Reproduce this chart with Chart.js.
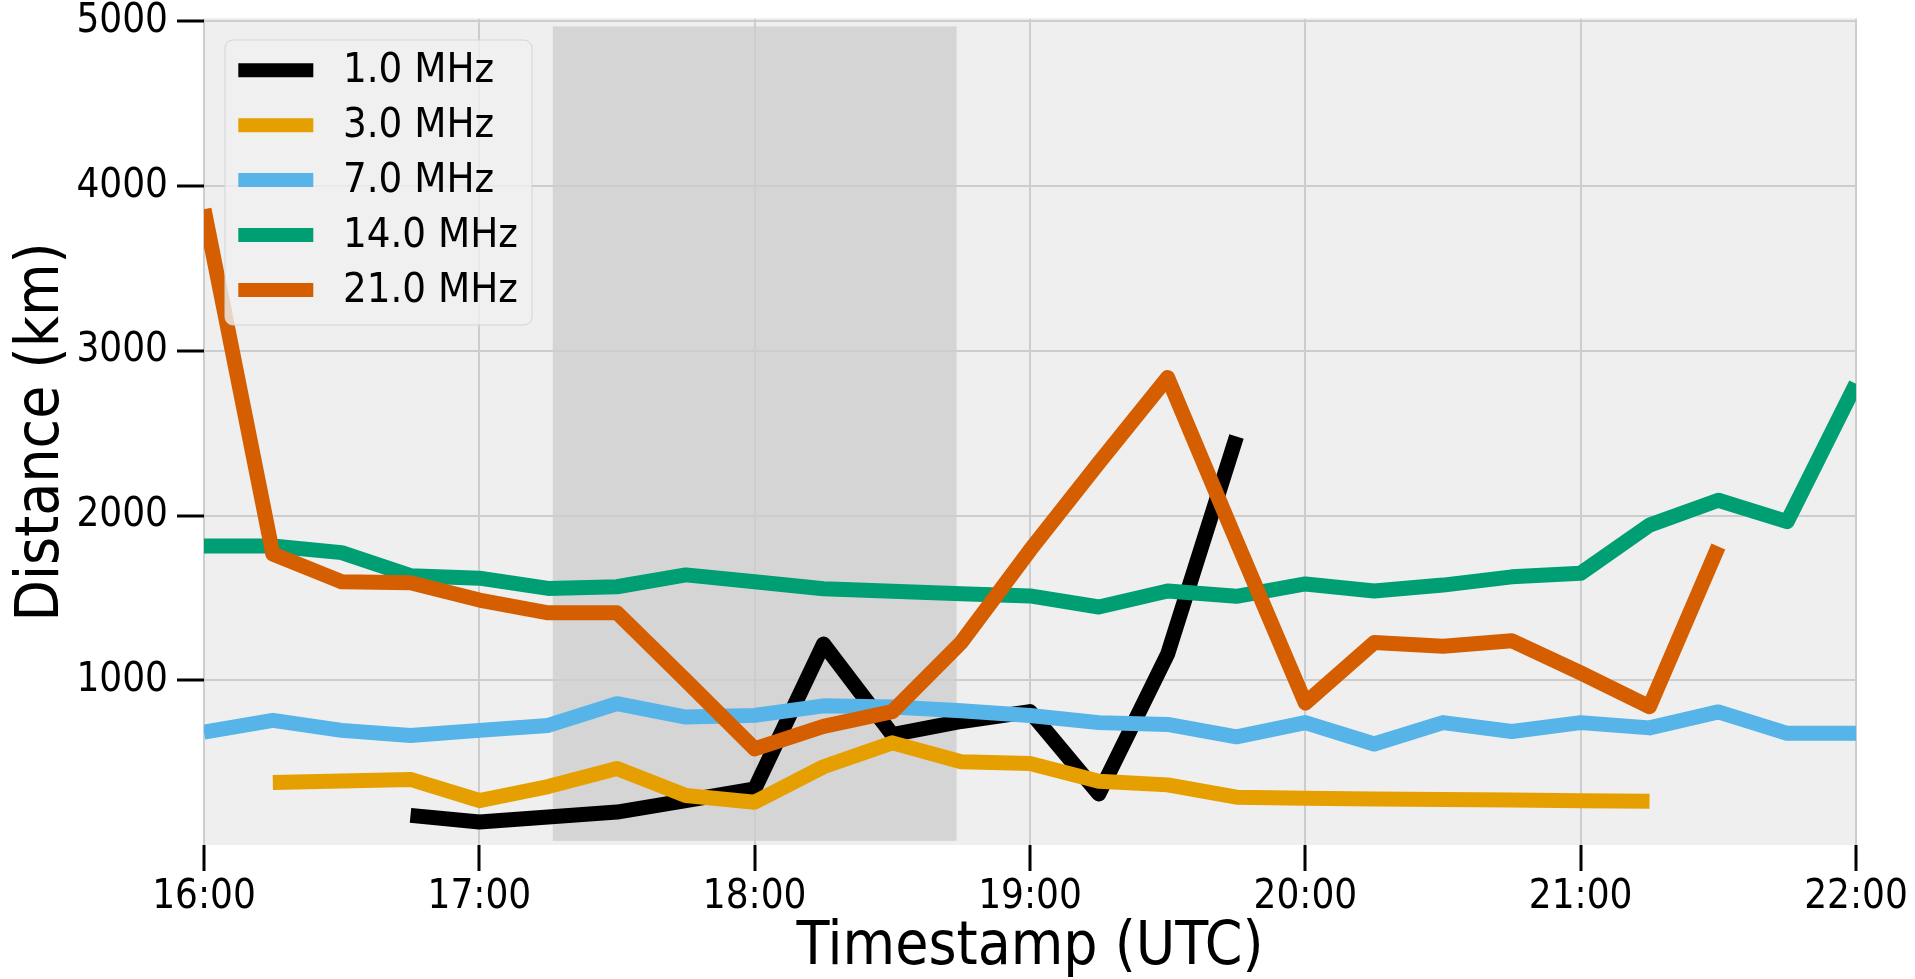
<!DOCTYPE html>
<html>
<head>
<meta charset="utf-8">
<title>Distance by frequency</title>
<script src="https://cdn.jsdelivr.net/npm/chart.js@4.4.1/dist/chart.umd.min.js"></script>
<style>
    html, body { margin: 0; padding: 0; background: #ffffff; }
    .chart-wrap { position: relative; width: 1915px; height: 979px; }
</style>
</head>
<body>
<div class="chart-wrap"><canvas id="distanceChart"></canvas></div>
<script>
// Sample times, every 15 minutes (UTC)
const timeLabels = [
    '16:00', '16:15', '16:30', '16:45', '17:00', '17:15', '17:30', '17:45',
    '18:00', '18:15', '18:30', '18:45', '19:00', '19:15', '19:30', '19:45',
    '20:00', '20:15', '20:30', '20:45', '21:00', '21:15', '21:30', '21:45', '22:00'
];
const xTickLabels = ['16:00', '17:00', '18:00', '19:00', '20:00', '21:00', '22:00'];
const yTickValues = [1000, 2000, 3000, 4000, 5000];

const seriesLabels = ['1.0 MHz', '3.0 MHz', '7.0 MHz', '14.0 MHz', '21.0 MHz'];

// Distance (km) per frequency, null where there is no data
const dist1MHz = [null, null, null, 180, 140, 170, 200, 270, 340, 1220, 670, 750, 810, 310, 1160, 2480,
    null, null, null, null, null, null, null, null, null];
const dist3MHz = [null, 380, 388, 398, 270, 355, 465, 300, 260, 475, 620, 505, 495, 387, 365, 290,
    284, 280, 277, 273, 268, 265, null, null, null];
const dist7MHz = [686, 757, 696, 665, 696, 726, 858, 777, 787, 845, 838, 815, 786, 743, 732, 657,
    743, 613, 743, 689, 743, 711, 808, 678, 678];
const dist14MHz = [1815, 1815, 1775, 1635, 1620, 1558, 1568, 1640, 1598, 1556, 1540, 1525, 1512, 1445, 1542, 1510,
    1585, 1542, 1578, 1628, 1650, 1942, 2093, 1963, 2800];
const dist21MHz = [3860, 1767, 1598, 1592, 1487, 1410, 1410, 1000, 584, 720, 810, 1229, 1790, 2320, 2838, 1845,
    862, 1229, 1207, 1240, 1045, 840, 1812, null, null];

// Shaded time window and its vertical extent
const shadeTimes = ['17:16', '18:44'];
const shadeDistance = [25, 4970];

const fontStack = "'DejaVu Sans Condensed', 'DejaVu Sans', sans-serif";

function toHours(label) {
    const [h, m] = label.split(':').map(Number);
    return h + m / 60;
}

function buildSeries(values) {
    return timeLabels.map((t, i) => ({ x: toHours(t), y: values[i] }));
}

const plotBackground = {
    id: 'plotBackground',
    beforeDraw(chart) {
        const { ctx, chartArea: area, scales: { x, y } } = chart;
        ctx.save();
        ctx.fillStyle = '#efefef';
        ctx.fillRect(area.left, area.top - 1, area.right - area.left + 1, area.bottom - area.top + 1);

        const x0 = x.getPixelForValue(toHours(shadeTimes[0]));
        const x1 = x.getPixelForValue(toHours(shadeTimes[1]));
        const y0 = y.getPixelForValue(shadeDistance[1]);
        const y1 = y.getPixelForValue(shadeDistance[0]);
        ctx.fillStyle = '#d5d5d5';
        ctx.fillRect(x0, y0, x1 - x0, y1 - y0);
        ctx.restore();
    }
};

// Legend drawn inside the plot, upper left, semi transparent like matplotlib
const insetLegend = {
    id: 'insetLegend',
    afterDatasetsDraw(chart) {
        const { ctx, chartArea: area } = chart;
        const left = area.left + 21;
        const top = area.top + 21;
        const width = 307;
        const height = 285;

        ctx.save();
        ctx.beginPath();
        if (ctx.roundRect) {
            ctx.roundRect(left, top, width, height, 8);
        } else {
            ctx.rect(left, top, width, height);
        }
        ctx.fillStyle = 'rgba(240, 240, 240, 0.8)';
        ctx.fill();
        ctx.lineWidth = 1;
        ctx.strokeStyle = '#d4d4d4';
        ctx.stroke();

        ctx.font = '41.5px ' + fontStack;
        ctx.textBaseline = 'middle';
        chart.data.datasets.forEach((ds, i) => {
            const rowY = top + 30.3 + i * 54.9;
            ctx.beginPath();
            ctx.moveTo(left + 13.3, rowY);
            ctx.lineTo(left + 88.3, rowY);
            ctx.strokeStyle = ds.borderColor;
            ctx.lineWidth = 14;
            ctx.lineCap = 'butt';
            ctx.stroke();
            ctx.fillStyle = '#000000';
            ctx.fillText(ds.label, left + 118, rowY + 1);
        });
        ctx.restore();
    }
};

document.addEventListener('DOMContentLoaded', function() {
    initDistanceChart();
});

function initDistanceChart() {
    const ctx = document.getElementById('distanceChart').getContext('2d');
    Chart.defaults.font.family = fontStack;

    const palette = ['#000000', '#E69F00', '#56B4E9', '#009E73', '#D55E00'];
    const allSeries = [dist1MHz, dist3MHz, dist7MHz, dist14MHz, dist21MHz];

    const datasets = allSeries.map((values, i) => ({
        label: seriesLabels[i],
        data: buildSeries(values),
        borderColor: palette[i],
        backgroundColor: palette[i],
        borderWidth: 15,
        borderCapStyle: 'butt',
        borderJoinStyle: 'round',
        pointRadius: 0,
        pointHoverRadius: 0,
        fill: false,
        tension: 0,
        clip: 0,
        // later series sit on top, as in the original plot
        order: allSeries.length - i
    }));

    new Chart(ctx, {
        type: 'line',
        data: { datasets },
        options: {
            responsive: true,
            maintainAspectRatio: false,
            animation: false,
            layout: { padding: { left: 0, right: 59, top: 19, bottom: 0 } },
            plugins: {
                legend: { display: false },
                tooltip: { enabled: false }
            },
            scales: {
                x: {
                    type: 'linear',
                    min: toHours(xTickLabels[0]),
                    max: toHours(xTickLabels[xTickLabels.length - 1]),
                    afterBuildTicks: scale => {
                        scale.ticks = xTickLabels.map(t => ({ value: toHours(t) }));
                    },
                    afterFit: scale => {
                        scale.height = 134;
                        scale.paddingLeft = 0;
                        scale.paddingRight = 0;
                    },
                    border: { display: false },
                    grid: {
                        color: '#cdcdcd',
                        lineWidth: 2,
                        drawTicks: true,
                        tickLength: 26,
                        tickColor: '#000000',
                        tickWidth: 3
                    },
                    ticks: {
                        color: '#000000',
                        font: { size: 40 },
                        padding: 3,
                        maxRotation: 0,
                        autoSkip: false,
                        callback: (value, index) => xTickLabels[index]
                    },
                    title: {
                        display: true,
                        text: 'Timestamp (UTC)',
                        color: '#000000',
                        font: { size: 60 },
                        padding: { top: 0, bottom: -5 }
                    }
                },
                y: {
                    min: 0,
                    max: 5015,
                    afterBuildTicks: scale => {
                        scale.ticks = yTickValues.map(v => ({ value: v }));
                    },
                    afterFit: scale => {
                        scale.width = 204;
                        scale.paddingTop = 0;
                        scale.paddingBottom = 0;
                    },
                    border: { display: false },
                    grid: {
                        color: '#cdcdcd',
                        lineWidth: 2,
                        drawTicks: true,
                        tickLength: 27,
                        tickColor: '#000000',
                        tickWidth: 3
                    },
                    ticks: {
                        color: '#000000',
                        font: { size: 40 },
                        padding: 9,
                        callback: value => String(value)
                    },
                    title: {
                        display: true,
                        text: 'Distance (km)',
                        color: '#000000',
                        font: { size: 60 },
                        padding: { top: 6, bottom: 0 }
                    }
                }
            }
        },
        plugins: [plotBackground, insetLegend]
    });
}
</script>
</body>
</html>
